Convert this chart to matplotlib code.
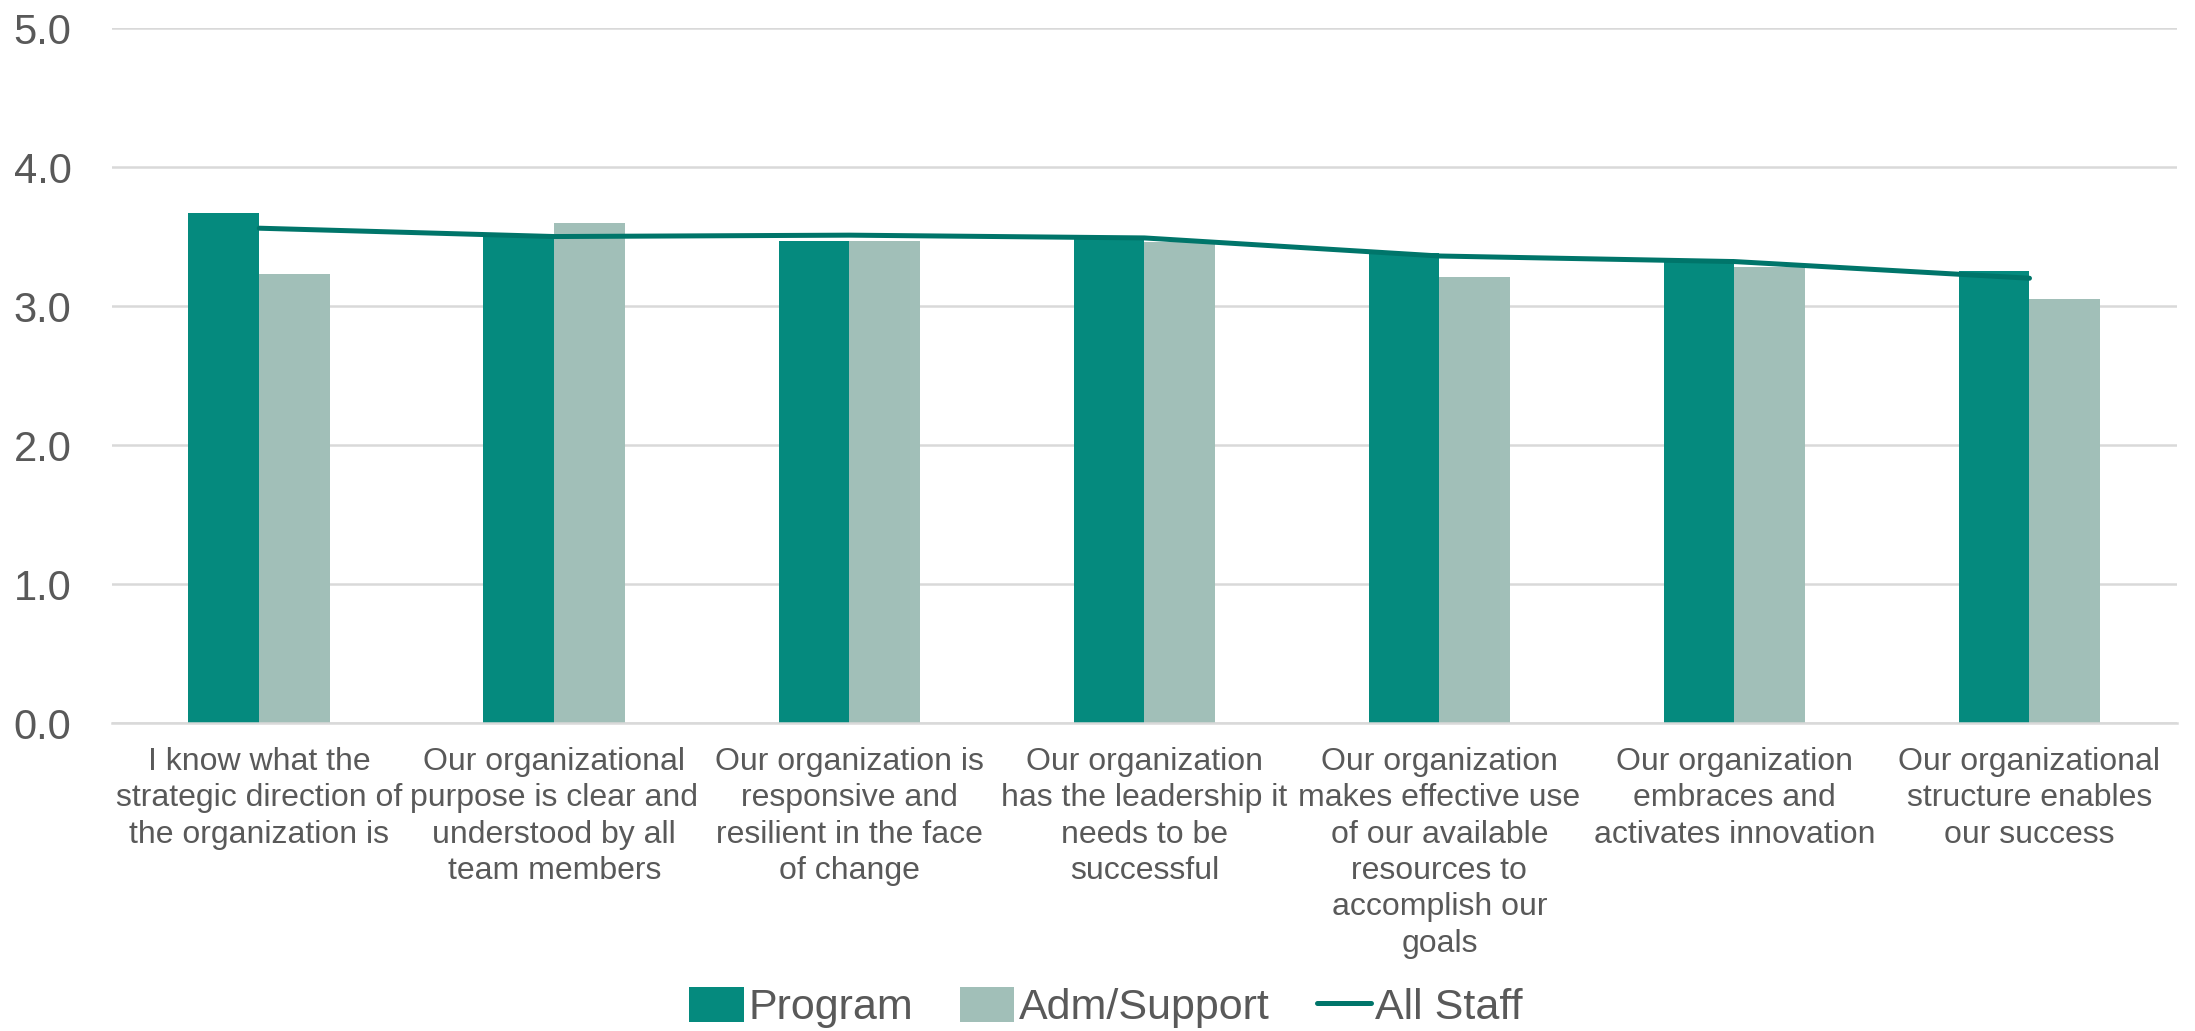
import numpy as np
import matplotlib
matplotlib.use("Agg")
import matplotlib.pyplot as plt

plt.rcParams['font.family'] = ['Liberation Sans', 'DejaVu Sans']

categories = [
    "I know what the\nstrategic direction of\nthe organization is",
    "Our organizational\npurpose is clear and\nunderstood by all\nteam members",
    "Our organization is\nresponsive and\nresilient in the face\nof change",
    "Our organization\nhas the leadership it\nneeds to be\nsuccessful",
    "Our organization\nmakes effective use\nof our available\nresources to\naccomplish our\ngoals",
    "Our organization\nembraces and\nactivates innovation",
    "Our organizational\nstructure enables\nour success",
]
program = [3.67, 3.50, 3.47, 3.49, 3.38, 3.34, 3.25]
adm_support = [3.23, 3.60, 3.47, 3.46, 3.21, 3.28, 3.05]
all_staff = [3.56, 3.50, 3.51, 3.49, 3.36, 3.32, 3.20]
y_ticks = [0.0, 1.0, 2.0, 3.0, 4.0, 5.0]

PROGRAM_COLOR = '#058A7E'
ADM_COLOR = '#A1BFB8'
LINE_COLOR = '#00756A'
TEXT_COLOR = '#595959'
GRID_COLOR = '#D9D9D9'

fig = plt.figure(figsize=(21.95, 10.31), dpi=100)
ax = fig.add_axes([0.0509, 0.2987, 0.9409, 0.6741])

x = np.arange(len(categories))
width = 0.24
b1 = ax.bar(x - width / 2, program, width, color=PROGRAM_COLOR, label='Program', zorder=2)
b2 = ax.bar(x + width / 2, adm_support, width, color=ADM_COLOR, label='Adm/Support', zorder=2)
l1, = ax.plot(x, all_staff, color=LINE_COLOR, lw=3.6, solid_capstyle='round',
              label='All Staff', zorder=3)

ax.set_xlim(-0.5, len(categories) - 0.5)
ax.set_ylim(0, 5)
ax.set_yticks(y_ticks)
ax.set_yticklabels(['%.1f' % t for t in y_ticks])
ax.set_xticks(x)
ax.set_xticklabels(categories, fontsize=23, color=TEXT_COLOR,
                   linespacing=1.28, ha='center')
ax.tick_params(axis='y', length=0, pad=29, labelsize=30, labelcolor=TEXT_COLOR)
ax.tick_params(axis='x', length=0, pad=17)

ax.grid(axis='y', color=GRID_COLOR, lw=1.8, zorder=0)
for side in ['left', 'right', 'top']:
    ax.spines[side].set_visible(False)
ax.spines['bottom'].set_color(GRID_COLOR)
ax.spines['bottom'].set_linewidth(1.8)

leg = fig.legend([b1, b2, l1], ['Program', 'Adm/Support', 'All Staff'],
                 loc='center', bbox_to_anchor=(0.504, 0.023), ncol=3,
                 frameon=False, fontsize=31, handlelength=1.26,
                 handleheight=0.88, handletextpad=0.1, columnspacing=1.1)
for t in leg.get_texts():
    t.set_color(TEXT_COLOR)

fig.savefig('out.png', dpi=100)
